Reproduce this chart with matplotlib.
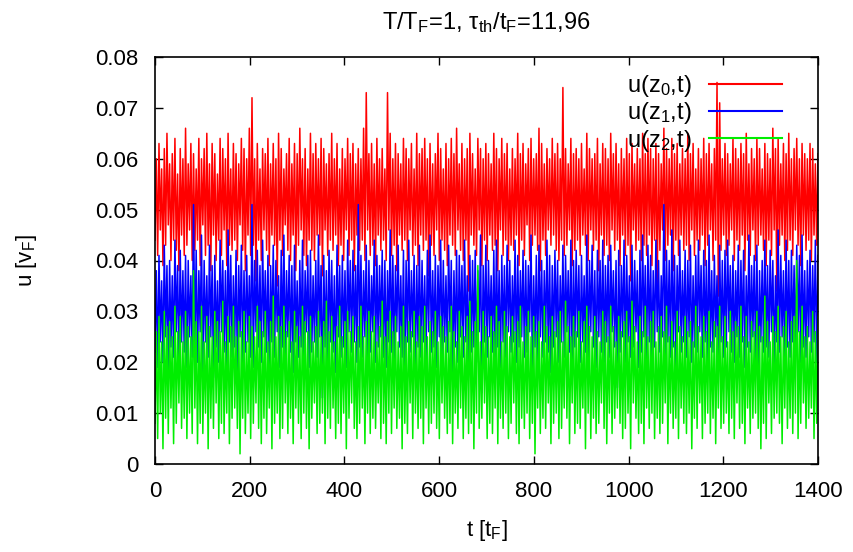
import numpy as np
import matplotlib
matplotlib.use("Agg")
import matplotlib.pyplot as plt
from matplotlib import font_manager

names = {f.name for f in font_manager.fontManager.ttflist}
FAM = "Liberation Sans Narrow" if "Liberation Sans Narrow" in names else "Liberation Sans"
plt.rcParams['font.family'] = [FAM, 'DejaVu Sans']
plt.rcParams['mathtext.fontset'] = 'custom'
plt.rcParams['mathtext.rm'] = FAM
plt.rcParams['mathtext.it'] = FAM
plt.rcParams['mathtext.bf'] = FAM

# ---- data (u in units of 1e-3 v_F), sampled evenly over t = 0..1400 ----
red_milli = [
    44,60,41,63,46,58,39,62,43,65, 47,59,40,61,44,64,42,57,38,62,
    45,60,41,66,43,59,46,63,40,61, 42,58,44,64,39,60,47,62,41,65,
    43,59,38,63,45,61,40,57,44,64, 41,62,46,60,39,65,43,58,42,63,
    44,61,40,59,47,64,42,62,38,60, 45,66,41,72,43,60,36,63,44,58,
    40,62,46,61,42,64,39,59,45,63, 43,60,35,65,44,62,41,58,47,61,
    42,64,40,59,45,63,38,61,43,66, 46,60,41,62,39,58,44,65,42,61,
    40,63,45,60,43,64,37,62,46,59, 41,61,44,65,42,60,45,63,39,58,
    43,62,40,60,46,64,41,61,44,63, 38,59,45,62,42,60,44,66,40,73,
    46,61,41,63,43,59,39,64,45,60, 42,62,44,58,40,73,46,65,41,60,
    43,63,38,61,45,59,42,64,44,62, 40,60,46,63,41,58,43,65,39,61,
    45,62,42,64,44,60,37,63,43,59, 41,61,46,65,40,62,44,58,42,63,
    39,60,45,64,43,61,41,66,46,59, 42,63,40,60,44,62,34,65,45,61,
    43,58,41,64,46,62,39,60,44,63, 40,61,45,59,42,65,43,62,38,60,
    46,64,41,61,44,63,40,58,43,62, 42,60,45,65,39,61,44,63,41,59,
    47,62,40,64,43,60,45,61,42,66, 38,63,44,59,41,62,46,60,43,64,
    45,61,42,63,40,60,44,74,41,62, 43,59,46,64,39,61,42,62,44,60,
    41,63,45,58,43,65,40,62,46,60, 42,61,44,64,38,59,45,63,41,62,
    43,60,40,65,46,61,42,63,44,59, 39,62,45,60,41,64,43,61,36,63,
    46,59,42,62,44,60,40,65,43,61, 41,64,45,62,39,60,44,63,35,61,
    42,59,46,66,40,62,43,60,45,64, 38,61,44,63,41,59,45,62,42,60,
    43,65,40,61,46,63,41,58,44,62, 42,60,45,64,39,61,43,63,46,59,
    40,62,44,75,33,71,42,60,45,63, 41,61,43,59,46,64,40,62,44,60,
    42,63,45,61,38,65,44,59,41,62, 46,60,40,64,43,62,45,58,42,63,
    39,61,44,60,41,66,46,62,34,64, 43,59,45,63,40,61,42,65,44,60,
    41,62,46,64,43,60,39,63,45,61, 42,60,44,63,40,62,45,59,43,61,
]
blue_milli = [
    22,38,19,41,24,36,20,43,25,39, 18,40,23,37,21,44,26,39,20,42,
    24,38,22,41,19,40,25,37,21,51, 23,42,20,38,26,45,18,40,24,37,
    21,43,25,39,17,41,23,36,20,44, 26,40,22,38,19,46,24,41,21,37,
    23,42,18,39,25,43,20,38,22,41, 24,37,21,51,19,40,26,42,23,39,
    20,44,25,38,22,41,17,39,24,43, 21,40,26,37,19,42,23,45,20,38,
    25,41,22,39,18,43,24,36,21,40, 23,44,20,38,26,41,19,42,22,37,
    24,40,21,45,25,39,13,41,23,38, 20,42,24,40,22,37,18,43,25,39,
    21,41,23,38,19,44,26,40,22,42, 24,39,20,51,23,41,21,38,25,43,
    18,40,22,37,26,44,20,41,23,39, 25,42,21,40,19,38,24,46,22,41,
    20,39,26,43,23,37,21,42,17,40, 24,44,22,38,25,41,19,39,23,43,
    21,40,24,37,20,42,26,45,22,38, 23,41,19,39,25,44,21,40,24,37,
    22,43,26,40,18,38,23,42,20,41, 25,39,21,44,24,37,19,41,22,40,
    23,42,20,38,26,45,14,39,24,43, 21,40,25,37,22,42,20,44,23,38,
    19,41,24,39,21,43,26,40,22,37, 24,44,20,41,23,38,25,42,21,40,
    22,39,26,45,19,37,23,41,20,43, 25,40,21,38,24,44,22,41,18,39,
    23,42,25,40,20,37,24,43,21,41, 26,38,22,44,19,40,23,42,25,39,
    20,41,24,37,22,45,21,40,26,43, 23,38,19,42,25,40,22,44,20,39,
    24,41,21,43,26,38,23,40,15,42, 22,39,25,44,20,41,24,37,21,43,
    23,40,26,38,19,42,22,45,25,39, 20,43,24,41,21,38,23,44,26,40,
    22,37,25,51,20,42,24,40,21,46, 23,41,19,39,26,44,22,38,24,42,
    21,40,25,43,20,37,23,41,22,44, 26,39,21,42,24,40,19,45,23,38,
    22,41,25,37,20,43,24,40,21,42, 23,44,26,39,22,41,20,38,25,43,
    21,40,24,42,19,37,23,45,22,39, 25,41,20,43,16,38,24,40,22,44,
    23,39,21,42,26,40,19,37,24,46, 22,41,25,38,20,44,23,40,21,42,
    24,39,22,43,26,41,20,45,23,38, 21,40,25,42,22,39,24,44,20,41,
]
green_milli = [
    8,26,5,29,10,24,3,30,9,27, 6,28,11,25,4,31,8,26,12,29,
    7,24,9,30,5,27,10,25,6,38, 11,28,4,26,8,31,6,24,10,29,
    3,27,9,25,7,30,12,28,5,26, 8,32,6,24,10,29,4,27,9,31,
    11,25,7,28,2,26,9,30,6,24, 10,29,5,27,8,25,12,31,7,28,
    4,26,9,30,6,24,11,28,3,33, 8,25,10,29,5,27,7,31,12,26,
    6,28,9,24,4,30,11,27,8,25, 5,31,10,28,7,26,3,29,9,24,
    12,27,6,30,8,25,10,28,4,32, 9,26,7,29,11,24,5,27,8,31,
    6,25,10,28,3,30,9,26,12,29, 7,24,5,27,8,31,11,25,4,28,
    10,30,6,26,9,29,7,24,12,27, 5,32,8,25,4,28,10,30,6,26,
    11,29,7,24,9,27,3,31,8,25, 6,28,12,26,5,30,10,24,7,29,
    9,27,4,31,11,25,6,28,8,26, 10,30,7,24,5,29,12,27,9,25,
    6,28,8,31,4,26,10,24,7,30, 11,27,5,25,9,29,6,32,8,26,
    3,28,10,39,7,24,9,30,12,27, 5,25,8,29,6,26,11,31,4,28,
    9,24,7,30,10,27,5,25,8,29, 12,26,6,28,4,31,9,24,7,27,
    10,30,5,25,8,29,2,26,11,28, 6,24,9,31,7,27,12,25,4,29,
    8,26,10,28,5,30,7,24,11,32, 9,27,4,25,12,29,6,26,8,30,
    7,24,11,28,3,31,10,27,5,25, 9,29,6,26,8,24,12,30,7,28,
    4,25,10,31,6,27,9,24,11,29, 8,26,5,28,7,30,10,25,3,32,
    12,27,9,24,6,29,8,26,4,31, 11,25,7,28,10,30,5,24,9,27,
    6,29,8,26,12,31,4,25,10,28, 7,24,9,30,5,27,11,25,8,29,
    6,26,10,28,3,24,9,31,7,27, 12,25,5,29,8,26,10,30,6,24,
    9,28,4,27,11,31,7,25,8,29, 10,24,6,30,9,26,5,28,12,27,
    7,31,8,25,4,29,11,24,6,28, 9,26,10,30,7,27,3,25,8,33,
    5,28,12,24,6,29,9,26,10,31, 8,25,4,27,11,30,7,24,9,28,
    6,29,10,40,5,26,8,31,12,25, 7,27,9,24,11,30,5,26,8,29,
]
t_start, t_end = 0, 1400
labels = ['u(z$_0$,t)', 'u(z$_1$,t)', 'u(z$_2$,t)']
colors = ['#ff0000', '#0000ff', '#00ee00']
x_ticks = [0, 200, 400, 600, 800, 1000, 1200, 1400]
y_ticks = [0, 0.01, 0.02, 0.03, 0.04, 0.05, 0.06, 0.07, 0.08]
y_ticklabels = ['0', '0.01', '0.02', '0.03', '0.04', '0.05', '0.06', '0.07', '0.08']

series = [np.array(red_milli) / 1000, np.array(blue_milli) / 1000, np.array(green_milli) / 1000]

fig = plt.figure(figsize=(8.54, 5.52), dpi=100)
ax = fig.add_axes([155/854, 1-464/552, (818-155)/854, (464-57)/552])

for vals, lab, col in zip(series, labels, colors):
    t = np.linspace(t_start, t_end, len(vals))
    ax.plot(t, vals, color=col, lw=1.1, label=lab)

ax.set_xlim(0, 1400)
ax.set_ylim(0, 0.08)
ax.set_xticks(x_ticks)
ax.set_xticklabels([str(v) for v in x_ticks])
ax.set_yticks(y_ticks)
ax.set_yticklabels(y_ticklabels)
ax.tick_params(direction='in', top=True, right=True, length=6, width=1,
               labelsize=16, colors='black')
ax.tick_params(axis='x', pad=12)
ax.tick_params(axis='y', pad=12)
for s in ax.spines.values():
    s.set_linewidth(1.2)
    s.set_zorder(5)

ax.set_xlabel('t [t$_\\mathregular{F}$]', fontsize=16, labelpad=12)
ax.set_ylabel('u [v$_\\mathregular{F}$]', fontsize=16, labelpad=40)
ax.set_title('T/T$_\\mathregular{F}$=1, τ$_\\mathregular{th}$/t$_\\mathregular{F}$=11,96', fontsize=17, pad=20)

leg = ax.legend(loc='upper right', bbox_to_anchor=(0.967, 0.995), frameon=False,
                markerfirst=False, fontsize=17, handlelength=3.1, handletextpad=0.75,
                labelspacing=0.05, borderaxespad=0.2)
for h in leg.get_lines():
    h.set_linewidth(1.5)

fig.savefig('out.png', dpi=100)
